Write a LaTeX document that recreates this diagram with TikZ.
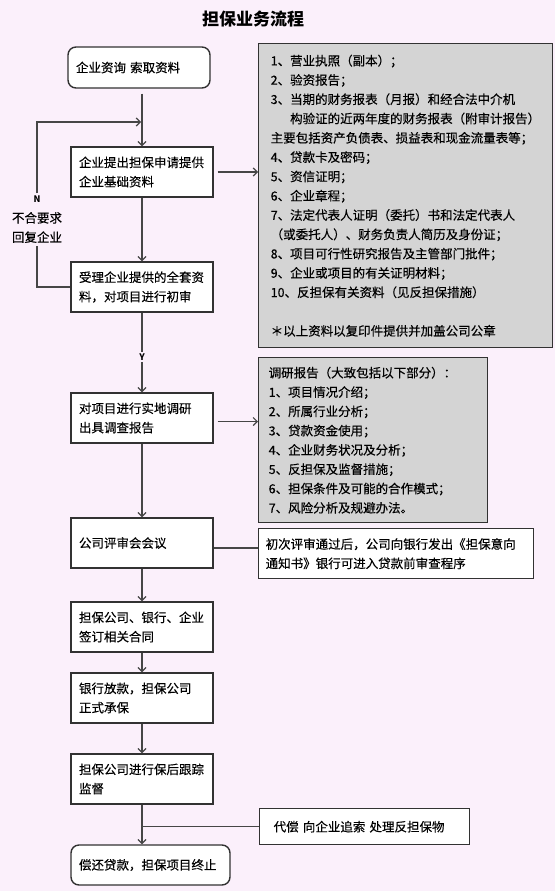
\documentclass[tikz,border=0pt]{standalone}
\usepackage{fontspec}
\setmainfont{Noto Sans CJK SC}
\newfontfamily\cjkbody{Noto Sans CJK SC}[FakeBold=0.3]
\usetikzlibrary{arrows.meta}
\definecolor{bg}{RGB}{251,240,251}
\definecolor{boxgray}{RGB}{212,212,212}
\definecolor{edge}{RGB}{50,50,50}
\definecolor{wire}{RGB}{70,70,70}
\tikzset{
 cjktext/.style={font=\cjkbody\fontsize{12.5bp}{19.3bp}\selectfont},
 flowbox/.style={cjktext, draw=edge, line width=1.4bp, fill=white, rectangle,
   minimum width=142bp, minimum height=50bp, text width=126bp, inner xsep=8bp, inner ysep=2bp, align=left},
 endbox/.style={flowbox, rounded corners=8bp, minimum height=41bp},
 infobox/.style={cjktext, draw=edge, line width=1.4bp, fill=boxgray, anchor=north west,
   inner ysep=2bp, align=left},
 notebox/.style={infobox, fill=white},
 wireline/.style={draw=wire, line width=1.2bp},
 arr/.style={wireline, -{Straight Barb[length=4bp,width=8bp]}},
 yn/.style={font=\fontsize{9bp}{10bp}\selectfont\bfseries, fill=bg, inner sep=2bp},
}
\begin{document}
\begin{tikzpicture}[x=1bp,y=-1bp]
\fill[bg] (0,0) rectangle (555,891);
\useasboundingbox (0,0) rectangle (555,891);

\node[font=\fontsize{17bp}{20bp}\selectfont\bfseries] (title) at (253,19) {担保业务流程};

% main column
\node[endbox] (b1) at (139,67.5) {企业资询 索取资料};
\node[flowbox] (b2) at (142,172) {企业提出担保申请提供\\企业基础资料};
\node[flowbox] (b3) at (142,287) {受理企业提供的全套资\\料，对项目进行初审};
\node[flowbox] (b4) at (142,418) {对项目进行实地调研\\出具调查报告};
\node[flowbox] (b5) at (142,543) {公司评审会会议};
\node[flowbox] (b6) at (142,627) {担保公司、银行、企业\\签订相关合同};
\node[flowbox] (b7) at (142,698) {银行放款，担保公司\\正式承保};
\node[flowbox] (b8) at (142,779) {担保公司进行保后跟踪\\监督};
\node[endbox, minimum width=159bp, text width=143bp, minimum height=40bp] (b9) at (150.5,865) {偿还贷款，担保项目终止};

% side boxes
\node[infobox, inner xsep=12bp, text width=270bp, minimum height=304bp] (g1) at (258,43) {%
1、营业执照（副本）；\\
2、验资报告；\\
3、当期的财务报表（月报）和经合法中介机\\
\phantom{3、}构验证的近两年度的财务报表（附审计报告）\\
主要包括资产负债表、损益表和现金流量表等；\\
4、贷款卡及密码；\\
5、资信证明；\\
6、企业章程；\\
7、法定代表人证明（委托）书和法定代表人\\
（或委托人）、财务负责人简历及身份证；\\
8、项目可行性研究报告及主管部门批件；\\
9、企业或项目的有关证明材料；\\
10、反担保有关资料（见反担保措施）\\[19.3bp]
＊以上资料以复印件提供并加盖公司公章};

\node[infobox, inner xsep=10bp, text width=209bp, minimum height=165bp] (g2) at (258,357) {%
调研报告（大致包括以下部分）：\\
1、项目情况介绍；\\
2、所属行业分析；\\
3、贷款资金使用；\\
4、企业财务状况及分析；\\
5、反担保及监督措施；\\
6、担保条件及可能的合作模式；\\
7、风险分析及规避办法。};

\node[notebox, inner xsep=7bp, text width=261bp, minimum height=50bp] (n1) at (258,528) {%
初次评审通过后，公司向银行发出《担保意向\\
通知书》银行可进入贷款前审查程序};

\node[notebox, inner xsep=14bp, text width=182bp, minimum height=36bp] (n2) at (259,808) {%
代偿 向企业追索 处理反担保物};

% main arrows
\draw[arr, shorten <=5bp] (b1.south -| b2.north) -- (b2.north);
\draw[arr] (b2.south) -- (b3.north);
\draw[arr] (b3.south) -- (b4.north);
\node[yn] (ylab) at (142,357) {Y};
\draw[arr] (b4.south) -- (b5.north);
\draw[arr] (b5.south) -- (b6.north);
\draw[arr] (b6.south) -- (b7.north);
\draw[arr] (b7.south) -- (b8.north);
\draw[arr] (b8.south) -- (b8.south |- b9.north);

% side connectors
\draw[arr, shorten <=4bp] (b2.east) -- (b2.east -| g1.west);
\draw[arr, shorten <=4bp] ([yshift=-3.5bp]b4.east) -- ([yshift=-3.5bp]b4.east -| g2.west);
\draw[wireline] ([yshift=-5bp]b5.east) -- ([yshift=-5bp]b5.east -| n1.west);
\draw[wireline] (n2.west) -- (n2.west -| b8.south);

% feedback loop
\coordinate (j) at (141,122);
\node[cjktext, align=center, inner sep=3bp] (labT) at (37,227.5) {不合要求\\回复企业};
\node[yn] (labN) at (37,199) {N};
\draw[wireline] (b3.west) -| (labT.south);
\draw[arr] (labN.north) |- (j);
\end{tikzpicture}
\end{document}
